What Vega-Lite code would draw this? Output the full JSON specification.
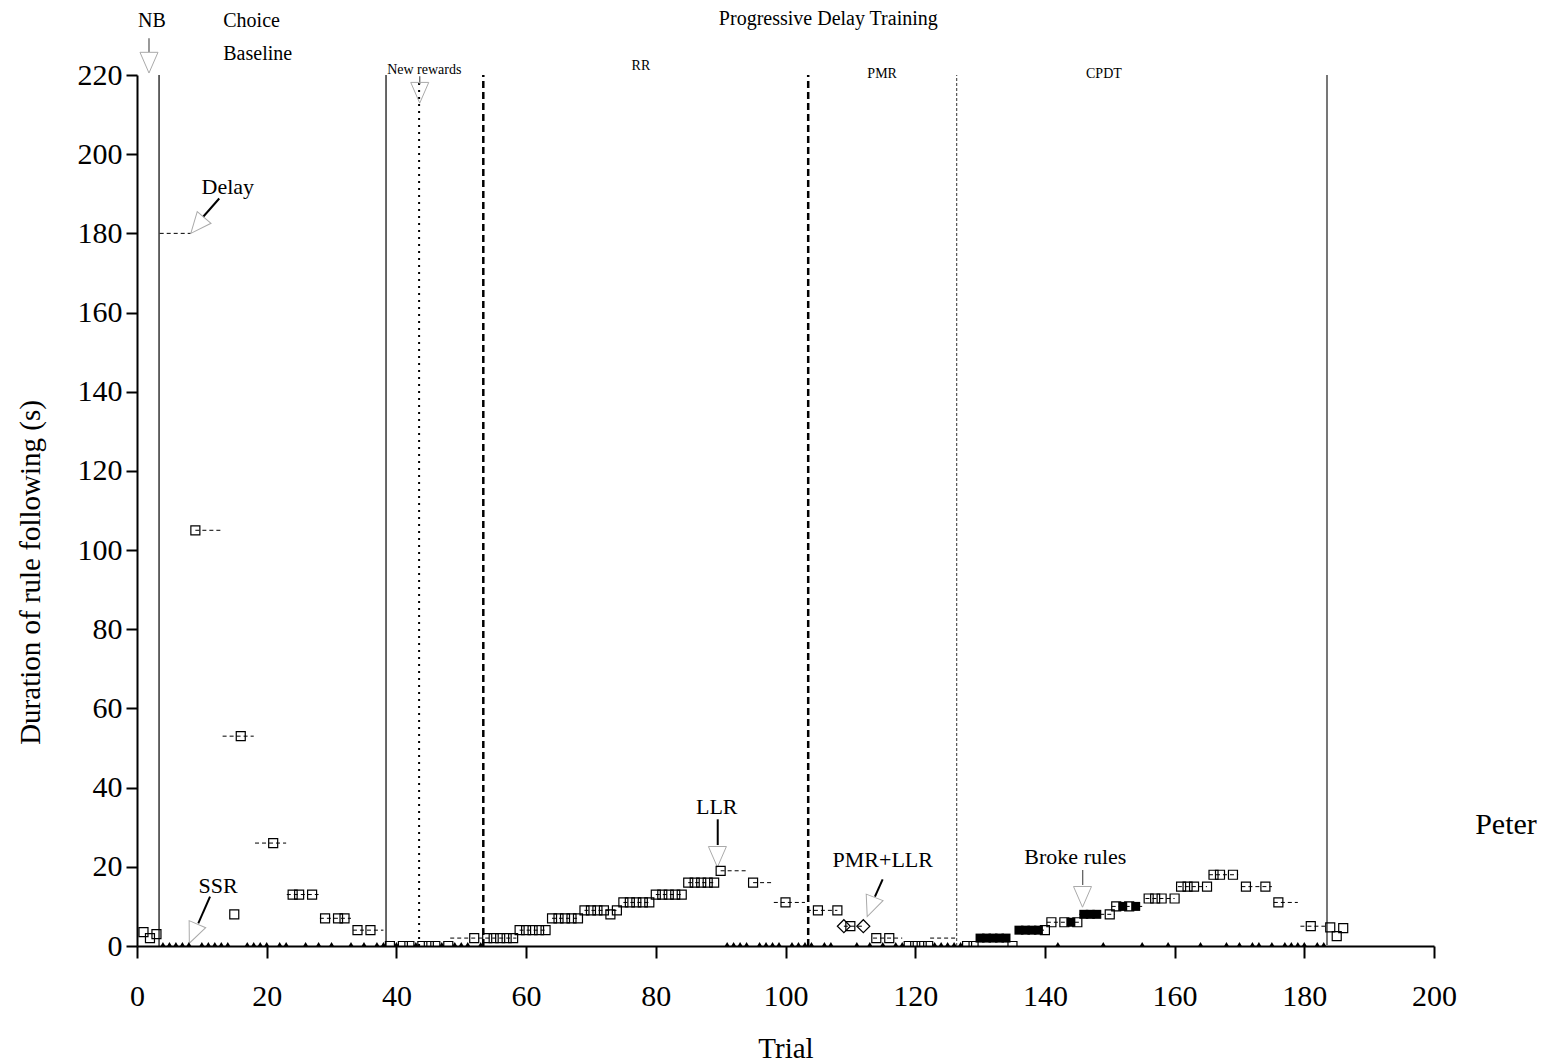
{
  "$schema": "https://vega.github.io/schema/vega-lite/v6.json",
  "width": 1297,
  "height": 871,
  "autosize": {"type": "none"},
  "padding": {"left": 137, "top": 75, "right": 120, "bottom": 117},
  "background": "white",
  "config": {
    "view": {"stroke": null},
    "font": "Liberation Serif",
    "axis": {
      "grid": false,
      "domainColor": "black",
      "domainWidth": 2,
      "tickColor": "black",
      "tickWidth": 2,
      "labelColor": "black",
      "titleColor": "black",
      "labelFont": "Liberation Serif",
      "titleFont": "Liberation Serif",
      "labelFontSize": 30,
      "titleFontSize": 29,
      "titleFontWeight": "normal",
      "labelFlush": false,
      "labelOverlap": false,
      "zindex": 1
    }
  },
  "datasets": {
    "vSolid": [{"t": 3.4, "v": 0, "v2": 220}, {"t": 38.4, "v": 0, "v2": 220}],
    "vDotted": [{"t": 43.5, "v": 0, "v2": 219}],
    "vDashed": [{"t": 53.4, "v": 0, "v2": 220}, {"t": 103.5, "v": 0, "v2": 220}],
    "vFine": [{"t": 126.4, "v": 0, "v2": 220}],
    "vGray": [{"t": 183.5, "v": 0, "v2": 220}],
    "dashes": [
      {"t": 3.5, "t2": 8.3, "v": 180}, {"t": 9, "t2": 13.1, "v": 105}, {"t": 13.2, "t2": 18, "v": 53},
      {"t": 18.2, "t2": 23, "v": 26}, {"t": 23.1, "t2": 28, "v": 13}, {"t": 28.2, "t2": 33, "v": 7},
      {"t": 33.3, "t2": 38, "v": 4}, {"t": 48.3, "t2": 58.5, "v": 2}, {"t": 59, "t2": 63, "v": 4},
      {"t": 64, "t2": 68, "v": 7}, {"t": 69, "t2": 74, "v": 9}, {"t": 75, "t2": 79, "v": 11},
      {"t": 80, "t2": 84, "v": 13}, {"t": 85, "t2": 89, "v": 16}, {"t": 90, "t2": 94.2, "v": 19},
      {"t": 95, "t2": 98, "v": 16}, {"t": 98.2, "t2": 103, "v": 11}, {"t": 103.3, "t2": 108, "v": 9},
      {"t": 109, "t2": 112, "v": 5}, {"t": 113.5, "t2": 118, "v": 2}, {"t": 122.3, "t2": 126.4, "v": 2},
      {"t": 130, "t2": 134, "v": 2}, {"t": 136, "t2": 140, "v": 4}, {"t": 140.3, "t2": 145.7, "v": 6},
      {"t": 145.3, "t2": 150.8, "v": 8}, {"t": 150.3, "t2": 155, "v": 10}, {"t": 155.5, "t2": 160, "v": 12},
      {"t": 160.5, "t2": 165, "v": 15}, {"t": 165.3, "t2": 169.8, "v": 18}, {"t": 170.3, "t2": 175, "v": 15},
      {"t": 175.3, "t2": 179, "v": 11}, {"t": 179.4, "t2": 183.2, "v": 5}
    ],
    "stemsBold": [
      {"t": 12.68, "v": 188.8, "t2": 10.21, "v2": 184.2},
      {"t": 11.26, "v": 12.45, "t2": 9.45, "v2": 5.73},
      {"t": 89.55, "v": 32.0, "t2": 89.55, "v2": 25.5},
      {"t": 114.98, "v": 16.85, "t2": 113.79, "v2": 12.45}
    ],
    "stemsThin": [
      {"t": 1.85, "v": 229.3, "t2": 1.85, "v2": 225.8},
      {"t": 43.6, "v": 219.7, "t2": 43.6, "v2": 217.7},
      {"t": 145.83, "v": 19.2, "t2": 145.83, "v2": 15.4}
    ],
    "arrowheads": [
      {"t": 1.85, "v": 220.5, "ang": 0}, {"t": 43.6, "v": 212.9, "ang": 0},
      {"t": 8.3, "v": 180, "ang": 40}, {"t": 8.07, "v": 0.7, "ang": 23},
      {"t": 89.5, "v": 19.9, "ang": 0}, {"t": 112.6, "v": 7.4, "ang": 21},
      {"t": 145.8, "v": 9.8, "ang": 0}
    ],
    "open": [
      {"t": 1, "v": 3.5}, {"t": 2, "v": 2}, {"t": 3, "v": 3}, {"t": 9, "v": 105}, {"t": 15, "v": 8},
      {"t": 16, "v": 53}, {"t": 21, "v": 26}, {"t": 24, "v": 13}, {"t": 25, "v": 13}, {"t": 27, "v": 13},
      {"t": 29, "v": 7}, {"t": 31, "v": 7}, {"t": 32, "v": 7}, {"t": 34, "v": 4}, {"t": 36, "v": 4},
      {"t": 39, "v": 0}, {"t": 41, "v": 0}, {"t": 42, "v": 0}, {"t": 44, "v": 0}, {"t": 45, "v": 0},
      {"t": 46, "v": 0}, {"t": 48, "v": 0}, {"t": 52, "v": 2},
      {"t": 54, "v": 2}, {"t": 55, "v": 2}, {"t": 56, "v": 2}, {"t": 57, "v": 2}, {"t": 58, "v": 2},
      {"t": 59, "v": 4}, {"t": 60, "v": 4}, {"t": 61, "v": 4}, {"t": 62, "v": 4}, {"t": 63, "v": 4},
      {"t": 64, "v": 7}, {"t": 65, "v": 7}, {"t": 66, "v": 7}, {"t": 67, "v": 7}, {"t": 68, "v": 7},
      {"t": 69, "v": 9}, {"t": 70, "v": 9}, {"t": 71, "v": 9}, {"t": 72, "v": 9}, {"t": 73, "v": 8}, {"t": 74, "v": 9},
      {"t": 75, "v": 11}, {"t": 76, "v": 11}, {"t": 77, "v": 11}, {"t": 78, "v": 11}, {"t": 79, "v": 11},
      {"t": 80, "v": 13}, {"t": 81, "v": 13}, {"t": 82, "v": 13}, {"t": 83, "v": 13}, {"t": 84, "v": 13},
      {"t": 85, "v": 16}, {"t": 86, "v": 16}, {"t": 87, "v": 16}, {"t": 88, "v": 16}, {"t": 89, "v": 16},
      {"t": 90, "v": 19}, {"t": 95, "v": 16}, {"t": 100, "v": 11}, {"t": 105, "v": 9}, {"t": 108, "v": 9},
      {"t": 110, "v": 5}, {"t": 114, "v": 2}, {"t": 116, "v": 2},
      {"t": 119, "v": 0}, {"t": 120, "v": 0}, {"t": 121, "v": 0}, {"t": 122, "v": 0},
      {"t": 128, "v": 0}, {"t": 129, "v": 0}, {"t": 135, "v": 0},
      {"t": 140, "v": 4}, {"t": 141, "v": 6}, {"t": 143, "v": 6}, {"t": 145, "v": 6}, {"t": 150, "v": 8},
      {"t": 151, "v": 10}, {"t": 153, "v": 10},
      {"t": 156, "v": 12}, {"t": 157, "v": 12}, {"t": 158, "v": 12}, {"t": 160, "v": 12},
      {"t": 161, "v": 15}, {"t": 162, "v": 15}, {"t": 163, "v": 15}, {"t": 165, "v": 15},
      {"t": 166, "v": 18}, {"t": 167, "v": 18}, {"t": 169, "v": 18},
      {"t": 171, "v": 15}, {"t": 174, "v": 15}, {"t": 176, "v": 11}, {"t": 181, "v": 5},
      {"t": 184, "v": 4.7}, {"t": 185, "v": 2.5}, {"t": 186, "v": 4.5}
    ],
    "filled": [
      {"t": 130, "v": 2}, {"t": 131, "v": 2}, {"t": 132, "v": 2}, {"t": 133, "v": 2}, {"t": 134, "v": 2},
      {"t": 136, "v": 4}, {"t": 137, "v": 4}, {"t": 138, "v": 4}, {"t": 139, "v": 4},
      {"t": 144, "v": 6}, {"t": 146, "v": 8}, {"t": 147, "v": 8}, {"t": 148, "v": 8},
      {"t": 152, "v": 10}, {"t": 154, "v": 10}
    ],
    "diamonds": [{"t": 109, "v": 5}, {"t": 112, "v": 5}],
    "zeros": [
      {"t": 4, "v": 0}, {"t": 5, "v": 0}, {"t": 6, "v": 0}, {"t": 7, "v": 0}, {"t": 8, "v": 0},
      {"t": 10, "v": 0}, {"t": 11, "v": 0}, {"t": 12, "v": 0}, {"t": 13, "v": 0}, {"t": 14, "v": 0},
      {"t": 17, "v": 0}, {"t": 18, "v": 0}, {"t": 19, "v": 0}, {"t": 20, "v": 0}, {"t": 22, "v": 0},
      {"t": 23, "v": 0}, {"t": 26, "v": 0}, {"t": 28, "v": 0}, {"t": 30, "v": 0}, {"t": 33, "v": 0},
      {"t": 35, "v": 0}, {"t": 37, "v": 0}, {"t": 38, "v": 0}, {"t": 40, "v": 0}, {"t": 43, "v": 0},
      {"t": 47, "v": 0}, {"t": 49, "v": 0}, {"t": 50, "v": 0}, {"t": 51, "v": 0}, {"t": 53, "v": 0},
      {"t": 91, "v": 0}, {"t": 92, "v": 0}, {"t": 93, "v": 0}, {"t": 94, "v": 0}, {"t": 96, "v": 0},
      {"t": 97, "v": 0}, {"t": 98, "v": 0}, {"t": 99, "v": 0}, {"t": 101, "v": 0}, {"t": 102, "v": 0},
      {"t": 103, "v": 0}, {"t": 104, "v": 0}, {"t": 106, "v": 0}, {"t": 107, "v": 0}, {"t": 111, "v": 0},
      {"t": 113, "v": 0}, {"t": 115, "v": 0}, {"t": 117, "v": 0}, {"t": 118, "v": 0}, {"t": 123, "v": 0},
      {"t": 124, "v": 0}, {"t": 125, "v": 0}, {"t": 126, "v": 0}, {"t": 127, "v": 0}, {"t": 142, "v": 0},
      {"t": 149, "v": 0}, {"t": 155, "v": 0}, {"t": 159, "v": 0}, {"t": 164, "v": 0}, {"t": 168, "v": 0},
      {"t": 170, "v": 0}, {"t": 172, "v": 0}, {"t": 173, "v": 0}, {"t": 175, "v": 0}, {"t": 177, "v": 0},
      {"t": 178, "v": 0}, {"t": 179, "v": 0}, {"t": 180, "v": 0}, {"t": 182, "v": 0}, {"t": 183, "v": 0}
    ],
    "headers": [
      {"t": 2.3, "v": 232.1, "label": "NB"},
      {"t": 106.6, "v": 232.6, "label": "Progressive Delay Training"}
    ],
    "choiceHeaders": [
      {"t": 13.3, "v": 232.1, "label": "Choice"},
      {"t": 13.3, "v": 223.8, "label": "Baseline"}
    ],
    "phases": [
      {"t": 44.3, "v": 220.3, "label": "New rewards"},
      {"t": 77.7, "v": 221.2, "label": "RR"},
      {"t": 114.9, "v": 219.3, "label": "PMR"},
      {"t": 149.1, "v": 219.3, "label": "CPDT"}
    ],
    "notes": [
      {"t": 14.0, "v": 190, "label": "Delay"},
      {"t": 12.5, "v": 13.4, "label": "SSR"},
      {"t": 89.4, "v": 33.3, "label": "LLR"},
      {"t": 115.0, "v": 20.0, "label": "PMR+LLR"},
      {"t": 144.7, "v": 20.7, "label": "Broke rules"}
    ],
    "subject": [{"t": 211.1, "v": 28.3, "label": "Peter"}]
  },
  "encoding": {
    "x": {
      "field": "t", "type": "quantitative",
      "scale": {"domain": [0, 200], "nice": false, "zero": false},
      "axis": {
        "values": [0, 20, 40, 60, 80, 100, 120, 140, 160, 180, 200],
        "title": "Trial",
        "tickSize": 12,
        "labelPadding": 23,
        "titleX": 648.5,
        "titleY": 111,
        "titleBaseline": "alphabetic",
        "titleAlign": "center"
      }
    },
    "y": {
      "field": "v", "type": "quantitative",
      "scale": {"domain": [0, 220], "nice": false, "zero": true},
      "axis": {
        "values": [0, 20, 40, 60, 80, 100, 120, 140, 160, 180, 200, 220],
        "title": "Duration of rule following (s)",
        "tickSize": 11,
        "labelPadding": 4,
        "titleX": -98,
        "titleY": 497,
        "titleAngle": -90,
        "titleBaseline": "alphabetic",
        "titleAlign": "center"
      }
    }
  },
  "layer": [
    {"data": {"name": "vSolid"}, "mark": {"type": "rule", "color": "black", "strokeWidth": 1.2}, "encoding": {"y2": {"field": "v2"}}},
    {"data": {"name": "vDotted"}, "mark": {"type": "rule", "color": "black", "strokeWidth": 2, "strokeDash": [2, 5]}, "encoding": {"y2": {"field": "v2"}}},
    {"data": {"name": "vDashed"}, "mark": {"type": "rule", "color": "black", "strokeWidth": 2.5, "strokeDash": [7, 4]}, "encoding": {"y2": {"field": "v2"}}},
    {"data": {"name": "vFine"}, "mark": {"type": "rule", "color": "#333333", "strokeWidth": 1, "strokeDash": [3, 2]}, "encoding": {"y2": {"field": "v2"}}},
    {"data": {"name": "vGray"}, "mark": {"type": "rule", "color": "#777777", "strokeWidth": 2}, "encoding": {"y2": {"field": "v2"}}},
    {"data": {"name": "dashes"}, "mark": {"type": "rule", "color": "black", "strokeWidth": 1, "strokeDash": [4, 3]}, "encoding": {"x2": {"field": "t2"}}},
    {"data": {"name": "stemsBold"}, "mark": {"type": "rule", "color": "black", "strokeWidth": 2}, "encoding": {"x2": {"field": "t2"}, "y2": {"field": "v2"}}},
    {"data": {"name": "stemsThin"}, "mark": {"type": "rule", "color": "#555555", "strokeWidth": 1.2}, "encoding": {"x2": {"field": "t2"}, "y2": {"field": "v2"}}},
    {"data": {"name": "arrowheads"}, "mark": {"type": "point", "shape": "M0,0L-1,-2.3L1,-2.3Z", "size": 324, "filled": false, "stroke": "#aaaaaa", "strokeWidth": 1, "opacity": 1},
     "encoding": {"angle": {"field": "ang", "type": "quantitative", "scale": {"domain": [0, 360], "range": [0, 360]}}}},
    {"data": {"name": "open"}, "mark": {"type": "point", "shape": "square", "size": 81, "filled": false, "stroke": "black", "strokeWidth": 1.2, "opacity": 1, "clip": true}},
    {"data": {"name": "filled"}, "mark": {"type": "point", "shape": "square", "size": 81, "filled": true, "fill": "black", "opacity": 1, "clip": true}},
    {"data": {"name": "diamonds"}, "mark": {"type": "point", "shape": "diamond", "size": 169, "filled": false, "stroke": "black", "strokeWidth": 1.2, "opacity": 1}},
    {"data": {"name": "zeros"}, "mark": {"type": "point", "shape": "triangle-up", "size": 22, "filled": true, "fill": "black", "opacity": 1, "yOffset": -2}},
    {"data": {"name": "headers"}, "mark": {"type": "text", "fontSize": 20, "align": "center", "baseline": "alphabetic", "color": "black"}, "encoding": {"text": {"field": "label"}}},
    {"data": {"name": "choiceHeaders"}, "mark": {"type": "text", "fontSize": 20, "align": "left", "baseline": "alphabetic", "color": "black"}, "encoding": {"text": {"field": "label"}}},
    {"data": {"name": "phases"}, "mark": {"type": "text", "fontSize": 14, "align": "center", "baseline": "alphabetic", "color": "black"}, "encoding": {"text": {"field": "label"}}},
    {"data": {"name": "notes"}, "mark": {"type": "text", "fontSize": 22, "align": "center", "baseline": "alphabetic", "color": "black"}, "encoding": {"text": {"field": "label"}}},
    {"data": {"name": "subject"}, "mark": {"type": "text", "fontSize": 30, "align": "center", "baseline": "alphabetic", "color": "black"}, "encoding": {"text": {"field": "label"}}}
  ]
}
